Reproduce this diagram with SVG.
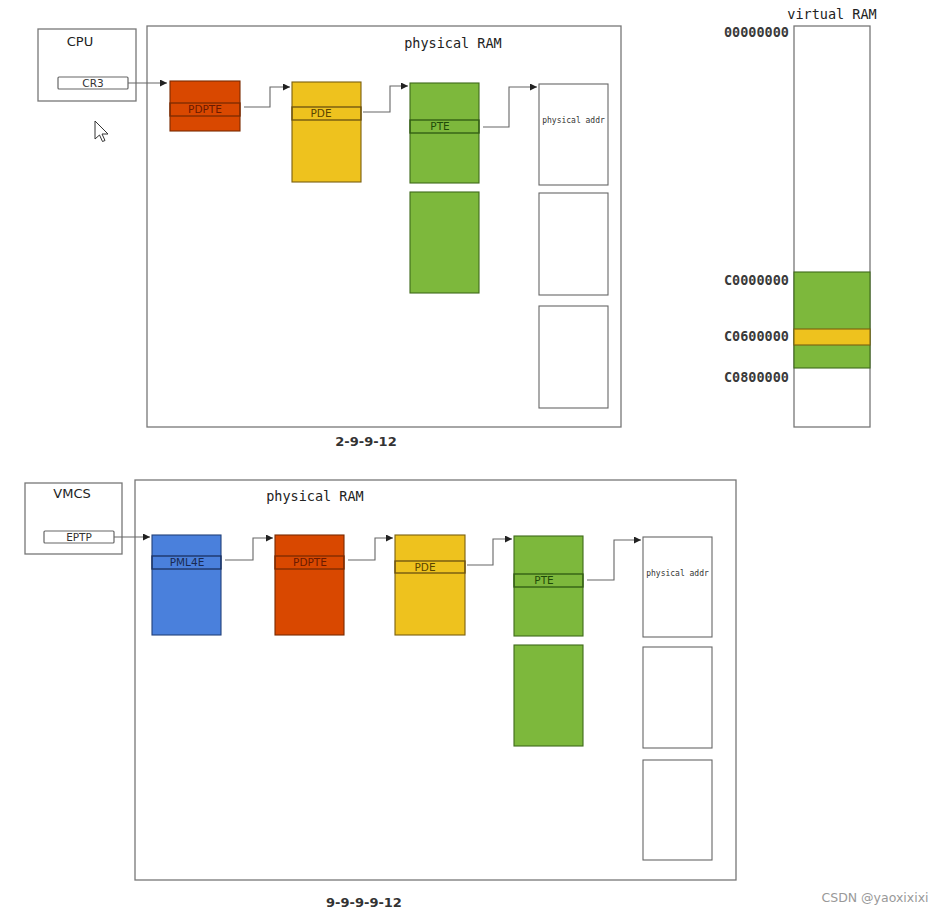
<svg xmlns="http://www.w3.org/2000/svg" width="943" height="916" viewBox="0 0 943 916">
<defs>
<style>
.frame{fill:#fff;stroke:#777;stroke-width:1.3}
.reg{fill:#fff;stroke:#666;stroke-width:1.2}
.red{fill:#d94800;stroke:#7a2a00;stroke-width:1.1}
.yel{fill:#eec21e;stroke:#7a6010;stroke-width:1.1}
.grn{fill:#7db83c;stroke:#3f6a1a;stroke-width:1.1}
.blu{fill:#4a80dc;stroke:#22407a;stroke-width:1.1}
.wht{fill:#fff;stroke:#666;stroke-width:1.1}
.strip{fill:none;stroke-width:1.3}
.sans{font-family:"DejaVu Sans","Liberation Sans",sans-serif}
.mono{font-family:"DejaVu Sans Mono","Liberation Mono",monospace}
.lbl{font-size:10.5px;text-anchor:middle}
.hex{font-size:13.5px;font-weight:bold;text-anchor:end;fill:#3a3a3a}
.conn path{fill:none;stroke:#666;stroke-width:1.1}
</style>
<marker id="ah" viewBox="0 0 10 10" refX="10" refY="5" markerWidth="7" markerHeight="7" orient="auto" markerUnits="userSpaceOnUse">
<path d="M0,0 L10,5 L0,10 Z" fill="#222"/>
</marker>
</defs>
<rect width="943" height="916" fill="#fff"/>

<!-- TOP SECTION -->
<g id="cpu">
<rect class="frame" x="38" y="29" width="98" height="72"/>
<text class="sans" x="80" y="46" font-size="13" text-anchor="middle" fill="#222">CPU</text>
<rect class="reg" x="58" y="77" width="70" height="12" rx="1"/>
<text class="sans" x="93" y="87" font-size="10.5" text-anchor="middle" fill="#333">CR3</text>
</g>

<g id="ram1">
<rect class="frame" x="147" y="26" width="474" height="401"/>
<text class="mono" x="453" y="48" font-size="13.5" text-anchor="middle" fill="#222">physical RAM</text>
</g>

<g id="pdpte1">
<rect class="red" x="170" y="81" width="70" height="50"/>
<rect class="strip" x="170" y="103" width="70" height="13" stroke="#7a2a00"/>
<text class="sans lbl" x="205" y="113" fill="#6a1a00">PDPTE</text>
</g>
<g id="pde1">
<rect class="yel" x="292" y="82" width="69" height="100"/>
<rect class="strip" x="292" y="107" width="69" height="13" stroke="#6a5010"/>
<text class="sans lbl" x="321" y="117" fill="#5a4400">PDE</text>
</g>
<g id="pte1">
<rect class="grn" x="410" y="83" width="69" height="100"/>
<rect class="strip" x="410" y="120" width="69" height="13" stroke="#2f5a12"/>
<text class="sans lbl" x="440" y="130" fill="#1f4a08">PTE</text>
</g>
<g id="pte1b">
<rect class="grn" x="410" y="192" width="69" height="101"/>
</g>
<g id="phys1">
<rect class="wht" x="539" y="84" width="69" height="101"/>
<text class="mono" x="573.5" y="123" font-size="8" text-anchor="middle" fill="#333">physical addr</text>
</g>
<g id="phys1b"><rect class="wht" x="539" y="193" width="69" height="102"/></g>
<g id="phys1c"><rect class="wht" x="539" y="306" width="69" height="102"/></g>

<text id="fmt1" class="sans" x="366" y="446" font-size="13" font-weight="bold" text-anchor="middle" fill="#333">2-9-9-12</text>

<g id="vram">
<text class="mono" x="832" y="19" font-size="13.5" text-anchor="middle" fill="#222">virtual RAM</text>
<rect class="frame" x="794" y="26" width="76" height="401"/>
<rect class="grn" x="794" y="272" width="76" height="96"/>
<rect class="yel" x="794" y="329" width="76" height="16"/>
<text class="mono hex" x="789" y="37">00000000</text>
<text class="mono hex" x="789" y="285">C0000000</text>
<text class="mono hex" x="789" y="341">C0600000</text>
<text class="mono hex" x="789" y="382">C0800000</text>
</g>

<!-- BOTTOM SECTION -->
<g id="vmcs">
<rect class="frame" x="25" y="483" width="97" height="71"/>
<text class="sans" x="72" y="498" font-size="13" text-anchor="middle" fill="#222">VMCS</text>
<rect class="reg" x="44" y="531" width="70" height="12" rx="1"/>
<text class="sans" x="79" y="541" font-size="10.5" text-anchor="middle" fill="#333">EPTP</text>
</g>

<g id="ram2">
<rect class="frame" x="135" y="480" width="601" height="400"/>
<text class="mono" x="315" y="501" font-size="13.5" text-anchor="middle" fill="#222">physical RAM</text>
</g>

<g id="pml4e">
<rect class="blu" x="152" y="535" width="69" height="100"/>
<rect class="strip" x="152" y="556" width="69" height="13" stroke="#1a3060"/>
<text class="sans lbl" x="187" y="566" fill="#1a2a50">PML4E</text>
</g>
<g id="pdpte2">
<rect class="red" x="275" y="535" width="69" height="100"/>
<rect class="strip" x="275" y="556" width="69" height="13" stroke="#7a2a00"/>
<text class="sans lbl" x="310" y="566" fill="#6a1a00">PDPTE</text>
</g>
<g id="pde2">
<rect class="yel" x="395" y="535" width="70" height="100"/>
<rect class="strip" x="395" y="561" width="70" height="12" stroke="#6a5010"/>
<text class="sans lbl" x="425" y="571" fill="#5a4400">PDE</text>
</g>
<g id="pte2">
<rect class="grn" x="514" y="536" width="69" height="100"/>
<rect class="strip" x="514" y="574" width="69" height="13" stroke="#2f5a12"/>
<text class="sans lbl" x="544" y="584" fill="#1f4a08">PTE</text>
</g>
<g id="pte2b"><rect class="grn" x="514" y="645" width="69" height="101"/></g>
<g id="phys2">
<rect class="wht" x="643" y="537" width="69" height="100"/>
<text class="mono" x="677.5" y="576" font-size="8" text-anchor="middle" fill="#333">physical addr</text>
</g>
<g id="phys2b"><rect class="wht" x="643" y="647" width="69" height="101"/></g>
<g id="phys2c"><rect class="wht" x="643" y="760" width="69" height="100"/></g>

<text id="fmt2" class="sans" x="364" y="907" font-size="13" font-weight="bold" text-anchor="middle" fill="#333">9-9-9-9-12</text>

<g id="connectors" class="conn">
<path d="M128,83 H167" marker-end="url(#ah)"/>
<path d="M244,107 H270 V87 H290" marker-end="url(#ah)"/>
<path d="M363,112 H390 V86 H408" marker-end="url(#ah)"/>
<path d="M483,127 H509 V87 H537" marker-end="url(#ah)"/>
<path d="M114,537 H150" marker-end="url(#ah)"/>
<path d="M225,560 H253 V538 H273" marker-end="url(#ah)"/>
<path d="M348,560 H375 V538 H393" marker-end="url(#ah)"/>
<path d="M467,565 H493 V539 H512" marker-end="url(#ah)"/>
<path d="M587,580 H614 V540 H641" marker-end="url(#ah)"/>
</g>

<path id="cursor" d="M95,121 L95,139 L99.5,135 L102.5,141.5 L105,140.5 L102,134 L108,134 Z" fill="#fff" stroke="#333" stroke-width="1"/>

<text class="sans" x="875" y="902" font-size="12.5" text-anchor="middle" fill="#999">CSDN @yaoxixixi</text>
</svg>
